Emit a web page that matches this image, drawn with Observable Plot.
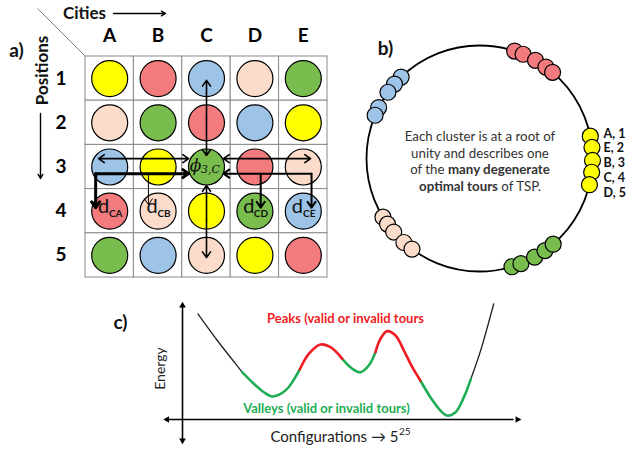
<!DOCTYPE html>
<html><head><meta charset="utf-8">
<script src="https://cdn.jsdelivr.net/npm/d3@7"></script>
<script src="https://cdn.jsdelivr.net/npm/@observablehq/plot@0.6"></script>
<style>
body{margin:0;background:#fff;}
#wrap{position:relative;width:634px;height:451px;overflow:hidden;font-family:Lato,"Open Sans",sans-serif;}
#wrap svg{position:absolute;left:0;top:0;}
#note{position:absolute;left:378px;top:128px;width:204px;text-align:center;font-size:13.3px;line-height:16.7px;color:#333;}
</style></head><body><div id="wrap"><div id="note">Each cluster is at a root of<br>unity and describes one<br>of the <b>many degenerate</b><br><b>optimal tours</b> of TSP.</div></div>
<script>
// ---------- data ----------
const cities = ["A","B","C","D","E"];
const positions = [1,2,3,4,5];
const row1 = ["yellow","red","blue","peach","green"];
const row2 = ["peach","green","red","blue","yellow"];
const row3 = ["blue","yellow","green","red","peach"];
const row4 = ["red","peach","yellow","green","blue"];
const row5 = ["green","blue","peach","yellow","red"];
const colorNames = ["yellow","red","blue","peach","green"];
const colorHex = ["#ffff00","#f47b7d","#9dc3e6","#fbdccb","#78bd4e"];

// connectors in grid units (city index, position index)
const connectors = [
  {x1:3, y1:1.9, x2:3, y2:1.04, w:1.6},
  {x1:3, y1:1.9, x2:3, y2:2.74, w:1.6},
  {x1:3, y1:4.2, x2:3, y2:3.42, w:1.6},
  {x1:3, y1:4.2, x2:3, y2:5.05, w:1.6},
  {x1:1.7, y1:2.81, x2:0.77, y2:2.81, w:1.6},
  {x1:1.7, y1:2.81, x2:2.63, y2:2.81, w:1.6},
  {x1:4.25, y1:2.81, x2:3.35, y2:2.81, w:1.6},
  {x1:4.25, y1:2.81, x2:5.15, y2:2.81, w:1.6},
  {x1:0.71, y1:3.15, x2:2.63, y2:3.15, w:3},
  {x1:0.71, y1:3.15, x2:0.71, y2:3.92, w:3},
  {x1:1.80, y1:3.15, x2:1.80, y2:3.85, w:1},
  {x1:5.17, y1:3.15, x2:3.35, y2:3.15, w:2},
  {x1:4.12, y1:3.15, x2:4.12, y2:3.92, w:2},
  {x1:5.17, y1:3.15, x2:5.17, y2:3.92, w:2}
];
const distLabels = ["CA","CB","CD","CE"];
const distCities = [1,2,4,5];

// panel b: cluster angles (degrees)
const redAngles = [71.9,67.3,60.3,54.0,49.7];
const blueAngles = [133.9,138.8,144.1,153.2,157.5];
const peachAngles = [211.3,215.5,220.6,228.0,233.3];
const greenAngles = [286.7,291.5,299.2,305.4,310.7];
const yellowAngles = [11.4,5.6,-1.0,-7.0,-13.4];
const yellowLabels = ["A, 1","E, 2","B, 3","C, 4","D, 5"];

// panel c: energy landscape
const configX = [4.6,10.4,14.3,17.8,21.3,24.3,26.8,29.3,31.7,35.0,37.7,41.2,44.2,47.7,50.7,53.1,55.6,57.6,59.1,61.1,63.6,66.1,68.6,71.0,74.0,77.0,79.0,81.5,84.0,86.1,89.0,92.9];
const energy = [92.7,69.3,54.6,41.5,31.3,23.9,20.2,22.5,28.3,43.9,57.6,65.8,63.4,53.2,44.5,41.5,47.4,59.0,70.8,77.5,73.7,60.5,45.9,34.2,19.6,7.9,3.5,6.4,19.6,35.7,60.5,101.5];
const segmentBreaks = [0,3,9,13,17,23,29,31];
const segmentKinds = ["other","valley","peak","valley","peak","valley","other"];

// ---------- build ----------
const wrap = document.getElementById("wrap");
const base = {width:634, height:451, style:{background:"transparent", fontFamily:"Lato, 'Open Sans', sans-serif", overflow:"visible"}};
const colorScale = {domain: colorNames, range: colorHex};

// Panel a
const rows = [row1,row2,row3,row4,row5];
const cells = [];
rows.forEach((r,pi)=>r.forEach((c,ci)=>cells.push({ci:ci+1, pi:pi+1, c})));
const arrowMarks = [...new Set(connectors.map(d=>d.w))].map(w =>
  Plot.arrow(connectors.filter(d=>d.w===w), {x1:"x1", y1:"y1", x2:"x2", y2:"y2", stroke:"black", strokeWidth:w, headLength: 7*1.5/w, headAngle:70}));
const distData = distLabels.map((t,i)=>({t, x:distCities[i], y:4}));

const pa = Plot.plot({...base,
  marginLeft:85, marginRight:634-327, marginTop:56, marginBottom:451-277,
  x:{domain:[0.5,5.5], axis:null},
  y:{domain:[0.5,5.5], reverse:true, axis:null},
  color: colorScale,
  marks:[
    Plot.rect(cells, {x1:d=>d.ci-0.5, x2:d=>d.ci+0.5, y1:d=>d.pi-0.5, y2:d=>d.pi+0.5, fill:"white", stroke:"#8a8a8a", strokeWidth:1}),
    Plot.dot(cells, {x:"ci", y:"pi", r:18, fill:"c", stroke:"black", strokeWidth:1.2}),
    Plot.axisX({anchor:"top", ticks:[1,2,3,4,5], tickFormat:i=>cities[i-1], tickSize:0, tickPadding:15, fontSize:19, fontWeight:"bold", label:null, fill:"black"}),
    Plot.axisY({anchor:"left", ticks:positions, tickFormat:d=>String(d), tickSize:0, tickPadding:19, fontSize:19, fontWeight:"bold", label:null, fill:"black"}),
    ...arrowMarks,
    Plot.text(["ϕ"], {x:3, y:3, dx:-11, dy:-1, text:d=>d, fontSize:17, fontStyle:"italic", fontFamily:"DejaVu Serif", fill:"#111"}),
    Plot.text(["3,C"], {x:3, y:3, dx:4, dy:2, text:d=>d, fontSize:11, fontStyle:"italic", fontFamily:"DejaVu Serif", fill:"#111"}),
    Plot.text(distData, {x:"x", y:"y", dx:-6, dy:-5, text:()=>"d", fontSize:20, fill:"#111"}),
    Plot.text(distData, {x:"x", y:"y", dx:6, dy:3, text:"t", fontSize:10, fontWeight:"bold", fill:"#111"})
  ]});
wrap.appendChild(pa);

// Panel b
const toRad = a => a*Math.PI/180;
const clusterData = [];
[["red",redAngles],["blue",blueAngles],["peach",peachAngles],["green",greenAngles],["yellow",yellowAngles]].forEach(([c,arr])=>
  arr.forEach(a=>clusterData.push({c, x:Math.cos(toRad(a)), y:Math.sin(toRad(a))})));
const labelData = yellowLabels.map((t,i)=>({t, x:1, y:1.22*Math.sin(toRad(yellowAngles[i])) - 2.5/113}));
const pb = Plot.plot({...base,
  marginLeft:366, marginRight:634-592, marginTop:45, marginBottom:451-271,
  x:{domain:[-1,1], axis:null},
  y:{domain:[-1,1], axis:null},
  color: colorScale,
  marks:[
    Plot.dot([0], {x:0, y:0, r:113, fill:"none", stroke:"black", strokeWidth:1.8}),
    Plot.dot(clusterData, {x:"x", y:"y", r:8, fill:"c", stroke:"black", strokeWidth:1.2}),
    Plot.text(labelData, {x:"x", y:"y", dx:11, text:"t", textAnchor:"start", fontSize:12.5, fontWeight:"bold", fill:"#111"})
  ]});
wrap.appendChild(pb);

// Panel c
const curve = [];
segmentKinds.forEach((k,s)=>{
  for (let i=segmentBreaks[s]; i<=segmentBreaks[s+1]; i++) curve.push({x:configX[i], e:energy[i], seg:s, k});
});
const pc = Plot.plot({...base,
  marginLeft:182, marginRight:634-517, marginTop:305, marginBottom:451-419,
  x:{domain:[0,100], axis:null},
  y:{domain:[0,100], axis:null},
  marks:[
    Plot.ruleY([0], {x1:-4.2, x2:99, stroke:"black", strokeWidth:1.6}),
    Plot.ruleX([0], {y1:-17.5, y2:99, stroke:"black", strokeWidth:1.6}),
    Plot.dot([{x:0,y:100,r:0},{x:0,y:-18.4,r:180},{x:-4.6,y:0,r:270},{x:100,y:0,r:90}], {x:"x", y:"y", rotate:"r", symbol:"triangle2", r:3.2, fill:"black"}),
    Plot.line(curve.filter(d=>d.k==="other"), {x:"x", y:"e", z:"seg", stroke:"#222", strokeWidth:1.3, curve:"catmull-rom"}),
    Plot.line(curve.filter(d=>d.k==="valley"), {x:"x", y:"e", z:"seg", stroke:"#1fae54", strokeWidth:2.6, curve:"catmull-rom"}),
    Plot.line(curve.filter(d=>d.k==="peak"), {x:"x", y:"e", z:"seg", stroke:"#ee1c24", strokeWidth:2.6, curve:"catmull-rom"})
  ]});
wrap.appendChild(pc);

// Overlay annotations (pixel space)
const annotations = [
  {t:"a)", x:16, y:50, s:19, w:"bold", r:0, c:"#111", a:"middle"},
  {t:"Cities", x:84, y:13, s:17, w:"bold", r:0, c:"#111", a:"middle"},
  {t:"Positions", x:42, y:70, s:17, w:"bold", r:-90, c:"#111", a:"middle"},
  {t:"b)", x:385, y:48, s:19, w:"bold", r:0, c:"#111", a:"middle"},
  {t:"c)", x:120, y:322, s:19, w:"bold", r:0, c:"#111", a:"middle"},
  {t:"Energy", x:160, y:368, s:14, w:"normal", r:-90, c:"#222", a:"middle"},
  {t:"Peaks (valid or invalid tours", x:345, y:318, s:13, w:"bold", r:0, c:"#ee1c24", a:"middle"},
  {t:"Valleys (valid or invalid tours)", x:326, y:408, s:13, w:"bold", r:0, c:"#1fae54", a:"middle"},
  {t:"Configurations → 5", x:398, y:437, s:15, w:"normal", r:0, c:"#222", a:"end"},
  {t:"25", x:398.5, y:431, s:10, w:"normal", r:0, c:"#222", a:"start"}
];
const po = Plot.plot({...base, margin:0,
  x:{domain:[0,634], range:[0,634], axis:null},
  y:{domain:[0,451], range:[0,451], axis:null},
  marks:[
    Plot.link([{x1:37,y1:8,x2:85,y2:56}], {x1:"x1", y1:"y1", x2:"x2", y2:"y2", stroke:"#888", strokeWidth:1}),
    Plot.arrow([{x1:113,y1:13,x2:165,y2:13},{x1:40,y1:113,x2:40,y2:178}], {x1:"x1", y1:"y1", x2:"x2", y2:"y2", stroke:"black", strokeWidth:1.4, headLength:5, headAngle:60}),
    ...annotations.map(d => Plot.text([d], {x:"x", y:"y", text:"t", fontSize:d.s, fontWeight:d.w, rotate:d.r, fill:d.c, textAnchor:d.a}))
  ]});
wrap.appendChild(po);
</script>
</body></html>
